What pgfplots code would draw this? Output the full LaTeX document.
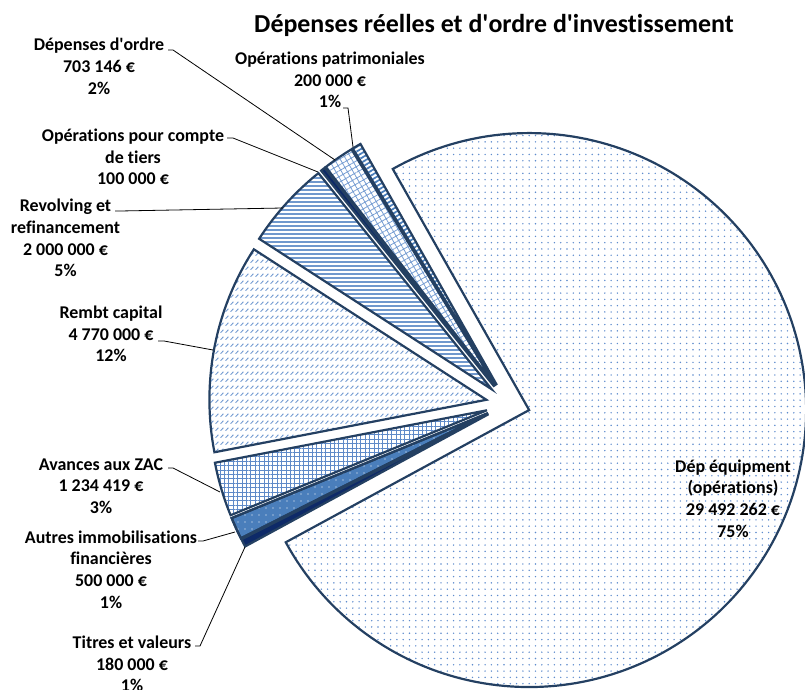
\documentclass[border=0pt]{standalone}
\usepackage{fontspec}
\setmainfont{Carlito}[Ligatures={TeX,NoCommon}]
\usepackage{pgfplots}
\pgfplotsset{compat=1.18}
\usetikzlibrary{patterns,patterns.meta}
\definecolor{bord}{RGB}{36,64,98}
\definecolor{dotc}{RGB}{95,140,205}
\definecolor{linec}{RGB}{112,152,205}
\definecolor{gridc}{RGB}{95,138,200}
\definecolor{autresc}{RGB}{74,126,187}
\definecolor{navy}{RGB}{14,42,104}
\definecolor{lightp}{RGB}{118,157,210}

\pgfdeclarepatternformonly{dashdiag}{\pgfqpoint{0bp}{0bp}}{\pgfqpoint{5bp}{7.2bp}}{\pgfqpoint{5bp}{7.2bp}}{%
  \pgfsetlinewidth{1.1bp}\pgfsetroundcap
  \pgfpathmoveto{\pgfqpoint{0.8bp}{1.5bp}}\pgfpathlineto{\pgfqpoint{3.8bp}{4.5bp}}\pgfusepath{stroke}}

\pgfmathsetmacro\total{29.492262+0.18+0.5+1.234419+4.77+2+0.1+0.703146+0.2}
\def\startang{119.5}
\def\Cx{508}
\def\Cy{404}
\def\dd{22}
\def\R{277}
\def\cum{0}

\newcommand\slice[2]{%
  \pgfmathsetmacro\aS{\startang-360*\cum/\total}%
  \pgfmathsetmacro\aE{\startang-360*(\cum+#1)/\total}%
  \pgfmathsetmacro\aM{(\aS+\aE)/2}%
  \pgfmathsetmacro\sx{\Cx+\dd*cos(\aM)}%
  \pgfmathsetmacro\sy{\Cy-\dd*sin(\aM)}%
  \pgfmathtruncatemacro\ns{abs(\aS-\aE)/1.5+4}%
  \pgfmathsetmacro\newcum{\cum+#1}%
  \xdef\cum{\newcum}%
  \edef\doslice{\noexpand\addplot[\unexpanded{#2}, domain=\aE:\aS, samples=\ns]
     ({\sx+\R*cos(x)},{\sy-\R*sin(x)}) -- (axis cs:\sx,\sy) -- cycle;}%
  \doslice
}

\tikzset{lbl/.style={align=center, font=\bfseries\fontsize{18}{21.8}\selectfont, inner sep=0pt},
  lead/.style={black, line width=0.8bp}}
\newcommand\q{\textquotesingle}

\begin{document}
\begin{tikzpicture}
\begin{axis}[width=805bp, height=690bp, scale only axis, xmin=0, xmax=805, ymin=0, ymax=690,
  y dir=reverse, hide axis, clip=false]
\pgfplotsset{every axis plot/.append style={draw=bord, line width=2.2bp}}
% values in millions of euros, clockwise order
\slice{29.492262}{pattern={Dots[distance=6.3bp,radius=0.8bp]}, pattern color=dotc}
\slice{0.18}{fill=navy}
\slice{0.5}{preaction={fill=autresc}, pattern={Dots[distance=7bp,radius=0.6bp]}, pattern color=white}
\slice{1.234419}{pattern={Hatch[distance=4.4bp,line width=0.9bp]}, pattern color=gridc}
\slice{4.77}{pattern=dashdiag, pattern color=lightp}
\slice{2}{pattern={Lines[distance=4bp,line width=1.4bp]}, pattern color=linec}
\slice{0.1}{fill=navy}
\slice{0.703146}{pattern={Hatch[distance=5bp,angle=30,line width=0.8bp]}, pattern color=lightp}
\slice{0.2}{pattern={Lines[distance=4bp,angle=30,line width=1.8bp]}, pattern color=autresc}

\node[font=\bfseries\fontsize{26}{30}\selectfont] at (axis cs:494,25) {Dépenses réelles et d\q ordre d\q investissement};

\node[lbl] at (axis cs:99,66.5) {Dépenses d\q ordre\\703 146 €\\2\%};
\draw[lead] (axis cs:168,50) -- (axis cs:173,50) -- (axis cs:335,160);
\node[lbl] at (axis cs:330,80) {Opérations patrimoniales\\200 000 €\\1\%};
\draw[lead] (axis cs:343,108) -- (axis cs:348,108) -- (axis cs:353,147);
\node[lbl] at (axis cs:133,157) {Opérations pour compte\\de tiers\\100 000 €};
\draw[lead] (axis cs:227,138) -- (axis cs:233,138) -- (axis cs:318,172);
\node[lbl] at (axis cs:65.5,238) {Revolving et\\refinancement\\2 000 000 €\\5\%};
\draw[lead] (axis cs:115,211) -- (axis cs:120,211) -- (axis cs:283,208);
\node[lbl] at (axis cs:111,334) {Rembt capital\\4 770 000 €\\12\%};
\draw[lead] (axis cs:158,341) -- (axis cs:164,341) -- (axis cs:213,350);
\node[lbl] at (axis cs:101,486) {Avances aux ZAC\\1 234 419 €\\3\%};
\draw[lead] (axis cs:168,468) -- (axis cs:173,468) -- (axis cs:220,492);
\node[lbl] at (axis cs:111,569.5) {Autres immobilisations\\financières\\500 000 €\\1\%};
\draw[lead] (axis cs:198,541) -- (axis cs:203,541) -- (axis cs:235,532);
\node[lbl] at (axis cs:132,664) {Titres et valeurs\\180 000 €\\1\%};
\draw[lead] (axis cs:195,646) -- (axis cs:200,646) -- (axis cs:245,547);
\node[lbl] at (axis cs:733,498.5) {Dép équipment\\(opérations)\\29 492 262 €\\75\%};
\end{axis}
\pgfresetboundingbox
\path (current axis.south west) rectangle (current axis.north east);
\end{tikzpicture}
\end{document}
